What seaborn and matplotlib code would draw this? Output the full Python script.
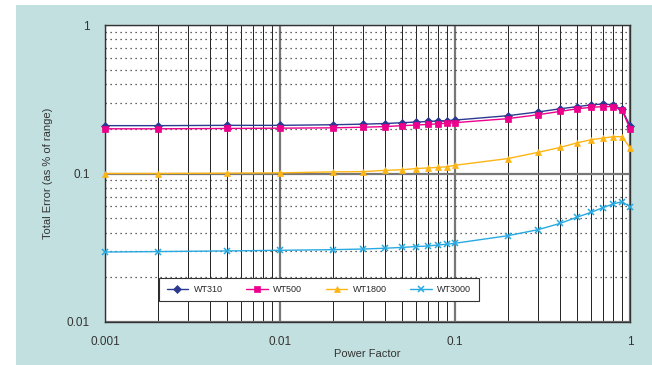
import matplotlib
matplotlib.use('Agg')
import matplotlib.pyplot as plt
from matplotlib.patches import Rectangle
from matplotlib.ticker import LogLocator, FixedLocator, FixedFormatter, NullFormatter
import seaborn as sns
import pandas as pd

# Power factor values (x) and total error per model (y, % of range)
power_factor = [0.001, 0.002, 0.005, 0.01, 0.02, 0.03, 0.04, 0.05, 0.06, 0.07, 0.08,
                0.09, 0.1, 0.2, 0.3, 0.4, 0.5, 0.6, 0.7, 0.8, 0.9, 1.0]
wt310 = [0.21, 0.21, 0.211, 0.211, 0.213, 0.215, 0.217, 0.22, 0.222, 0.224, 0.226,
         0.227, 0.229, 0.245, 0.26, 0.273, 0.282, 0.29, 0.294, 0.29, 0.27, 0.21]
wt500 = [0.2, 0.2, 0.201, 0.202, 0.203, 0.205, 0.207, 0.21, 0.212, 0.214, 0.216,
         0.218, 0.22, 0.234, 0.249, 0.262, 0.273, 0.279, 0.282, 0.282, 0.268, 0.2]
wt1800 = [0.1, 0.1, 0.1005, 0.101, 0.1025, 0.103, 0.105, 0.106, 0.108, 0.109, 0.110,
          0.111, 0.1136, 0.126, 0.139, 0.15, 0.161, 0.169, 0.173, 0.177, 0.177, 0.149]
wt3000 = [0.0296, 0.0298, 0.0301, 0.0304, 0.0307, 0.031, 0.0314, 0.0318, 0.0322, 0.0325,
          0.033, 0.0334, 0.0339, 0.0381, 0.0419, 0.0462, 0.0509, 0.0548, 0.0589, 0.0623,
          0.0646, 0.0598]

series_names = ['WT310', 'WT500', 'WT1800', 'WT3000']
series_values = [wt310, wt500, wt1800, wt3000]
colors = ['#2B3990', '#EC008C', '#FDB515', '#27AAE1']
markers = ['D', 's', '^', 'x']
marker_sizes = [3.6, 4.3, 4.8, 4.2]

x_ticks = [0.001, 0.01, 0.1, 1]
x_tick_labels = ['0.001', '0.01', '0.1', '1']
y_ticks = [0.01, 0.1, 1]
y_tick_labels = ['0.01', '0.1', '1']

df = pd.concat([
    pd.DataFrame({'pf': power_factor, 'err': vals, 'model': name})
    for name, vals in zip(series_names, series_values)
], ignore_index=True)

sns.set_style('white')
plt.rcParams['font.family'] = ['Liberation Sans', 'DejaVu Sans']

fig = plt.figure(figsize=(6.52, 3.65), dpi=100, facecolor='white')
# teal panel behind the chart
fig.patches.append(Rectangle((16 / 652, 0), 1 - 16 / 652, 360 / 365,
                             transform=fig.transFigure, facecolor='#C3E0E0',
                             edgecolor='none', zorder=-1))
ax = fig.add_axes([105 / 652, 43 / 365, 525 / 652, 297 / 365])
ax.set_facecolor('white')

for name, color, mk, ms in zip(series_names, colors, markers, marker_sizes):
    sub = df[df['model'] == name]
    sns.lineplot(data=sub, x='pf', y='err', ax=ax, color=color, marker=mk,
                 markersize=ms, markeredgecolor=color,
                 markeredgewidth=1.1 if mk == 'x' else 0.5,
                 linewidth=1.0, label=name, zorder=3, clip_on=False)

ax.set_xscale('log')
ax.set_yscale('log')
ax.set_xlim(0.001, 1)
ax.set_ylim(0.01, 1)

ax.xaxis.set_major_locator(FixedLocator(x_ticks))
ax.xaxis.set_major_formatter(FixedFormatter(x_tick_labels))
ax.yaxis.set_major_locator(FixedLocator(y_ticks))
ax.yaxis.set_major_formatter(FixedFormatter(y_tick_labels))
ax.xaxis.set_minor_locator(LogLocator(base=10, subs=range(2, 10)))
ax.yaxis.set_minor_locator(LogLocator(base=10, subs=range(2, 10)))
ax.xaxis.set_minor_formatter(NullFormatter())
ax.yaxis.set_minor_formatter(NullFormatter())

# grid: solid verticals, dotted minor horizontals
ax.grid(which='major', axis='x', color='#777777', linewidth=1.6, linestyle='-', zorder=1)
ax.grid(which='minor', axis='x', color='#222222', linewidth=0.7, linestyle='-', zorder=1)
ax.grid(which='major', axis='y', color='#777777', linewidth=1.6, linestyle='-', zorder=1)
ax.grid(which='minor', axis='y', color='#333333', linewidth=0.9, linestyle=(0, (1, 3)), zorder=1)
ax.set_axisbelow(True)

for sp in ax.spines.values():
    sp.set_color('#333333')
    sp.set_linewidth(1.0)

ax.tick_params(which='both', length=0)
ax.tick_params(axis='x', pad=10, labelsize=8.5, labelcolor='#333333')
ax.tick_params(axis='y', pad=11, labelsize=8.5, labelcolor='#333333')

ax.set_xlabel('Power Factor', fontsize=8, color='#333333', labelpad=1)
ax.set_ylabel('Total Error (as % of range)', fontsize=8, color='#333333', labelpad=10)

leg = ax.legend(ncol=4, loc='lower left', bbox_to_anchor=(0.095, 0.055),
                fontsize=6.5, frameon=True, fancybox=False, framealpha=1,
                edgecolor='#333333', handlelength=2.4, columnspacing=2.6,
                handletextpad=0.6, borderpad=0.8, markerscale=1.0)
leg.get_frame().set_linewidth(0.8)
leg.set_zorder(5)

fig.savefig('out.png', dpi=100, facecolor=fig.get_facecolor())
